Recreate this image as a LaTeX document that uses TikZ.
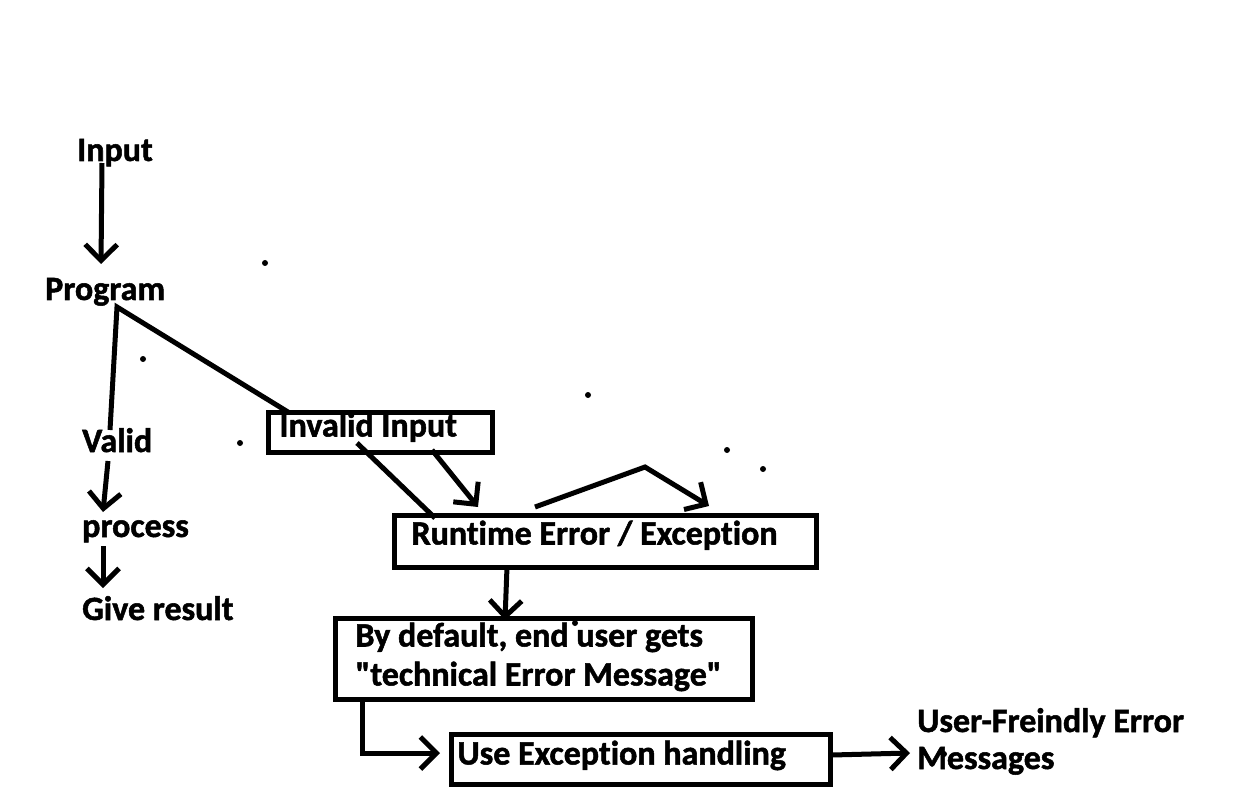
\documentclass[tikz,border=0pt]{standalone}
\usepackage{fontspec}
\setmainfont{Carlito}[Ligatures={TeXOff,NoCommon}, BoldFeatures={FakeBold=1.5}]
\usetikzlibrary{arrows.meta}
\newcommand\lblfont{\fontsize{34}{38}\selectfont\bfseries}
\begin{document}
\begin{tikzpicture}[x=1pt,y=-1pt,
  txt/.style={inner sep=0pt, anchor=base west, font=\lblfont},
  boxn/.style={draw, line width=5pt, inner ysep=0pt, anchor=north west, font=\lblfont},
  conn/.style={line width=5pt},
  arr/.style={conn, -{Straight Barb[length=16pt,width=32pt]}},
  speck/.style={fill=black}]
\useasboundingbox[fill=white] (0,0) rectangle (1250,810);

% plain texts
\node[txt] (input) at (77,161) {Input};
\node[txt] (program) at (45,300) {Program};
\node[txt] (valid) at (82,452) {Valid};
\node[txt] (process) at (82,537) {process};
\node[txt] (result) at (82,620) {Give result};
\node[txt] (ufe) at (917,732) {\parbox[t]{320pt}{User-Freindly Error\\[-1pt]Messages}};

% boxes
\node[boxn, inner xsep=11.5pt, text height=24.5pt, text depth=15.5pt] (inv) at (265.5,409.5)
  {\makebox[201pt][l]{Invalid Input}};
\node[boxn, inner xsep=17.5pt, text height=29.5pt, text depth=22.5pt] (rt) at (391.5,512.5)
  {\makebox[387pt][l]{Runtime Error / Exception}};
\node[boxn, inner xsep=20.5pt, text height=28.5pt, text depth=52.5pt] (def) at (332.5,615.5)
  {\parbox[t]{376pt}{By default, end user gets\\[1pt]"technical Error Message"}};
\node[boxn, inner xsep=6.5pt, text height=30.5pt, text depth=19.5pt] (use) at (448.5,731.5)
  {\makebox[366pt][l]{Use Exception handling}};

% connector end points
\coordinate (inS) at (102,163);   \coordinate (prN) at (101,264);
\coordinate (prS) at (117,307);   \coordinate (vaN) at (110,430);
\coordinate (invW) at (288,412);
\coordinate (vaS) at (108,461);   \coordinate (pcN) at (103,512);
\coordinate (pcS) at (103,546);   \coordinate (grN) at (103,588);
\coordinate (invA) at (357,443);  \coordinate (rtA) at (435,518);
\coordinate (invB) at (432,450);  \coordinate (rtB) at (478,507);
\coordinate (rtC) at (535,507);   \coordinate (peak) at (645,467);
\coordinate (rtD) at (709,506);
\coordinate (rtS) at (507,567);   \coordinate (defN) at (505,620);
\coordinate (defS) at (362,699);  \coordinate (bend) at (362,753);
\coordinate (useW) at (440,753);
\coordinate (useE) at (832,755);  \coordinate (ufeW) at (910,753);

% connectors
\draw[arr] (inS) -- (prN);
\draw[conn, line join=miter] (vaN) -- (prS) -- (invW);
\draw[arr] (vaS) -- (pcN);
\draw[arr] (pcS) -- (grN);
\draw[conn] (invA) -- (rtA);
\draw[arr] (invB) -- (rtB);
\draw[arr, line join=miter] (rtC) -- (peak) -- (rtD);
\draw[arr] (rtS) -- (defN);
\draw[arr, line join=miter] (defS) -- (bend) -- (useW);
\draw[arr] (useE) -- (ufeW);

% stray specks
\foreach \p in {(265,263),(143,359),(240,443),(588,395),(727,450),(763,469),(575,623),(944,754)}
  \fill[speck] \p circle (3pt);
\end{tikzpicture}
\end{document}
